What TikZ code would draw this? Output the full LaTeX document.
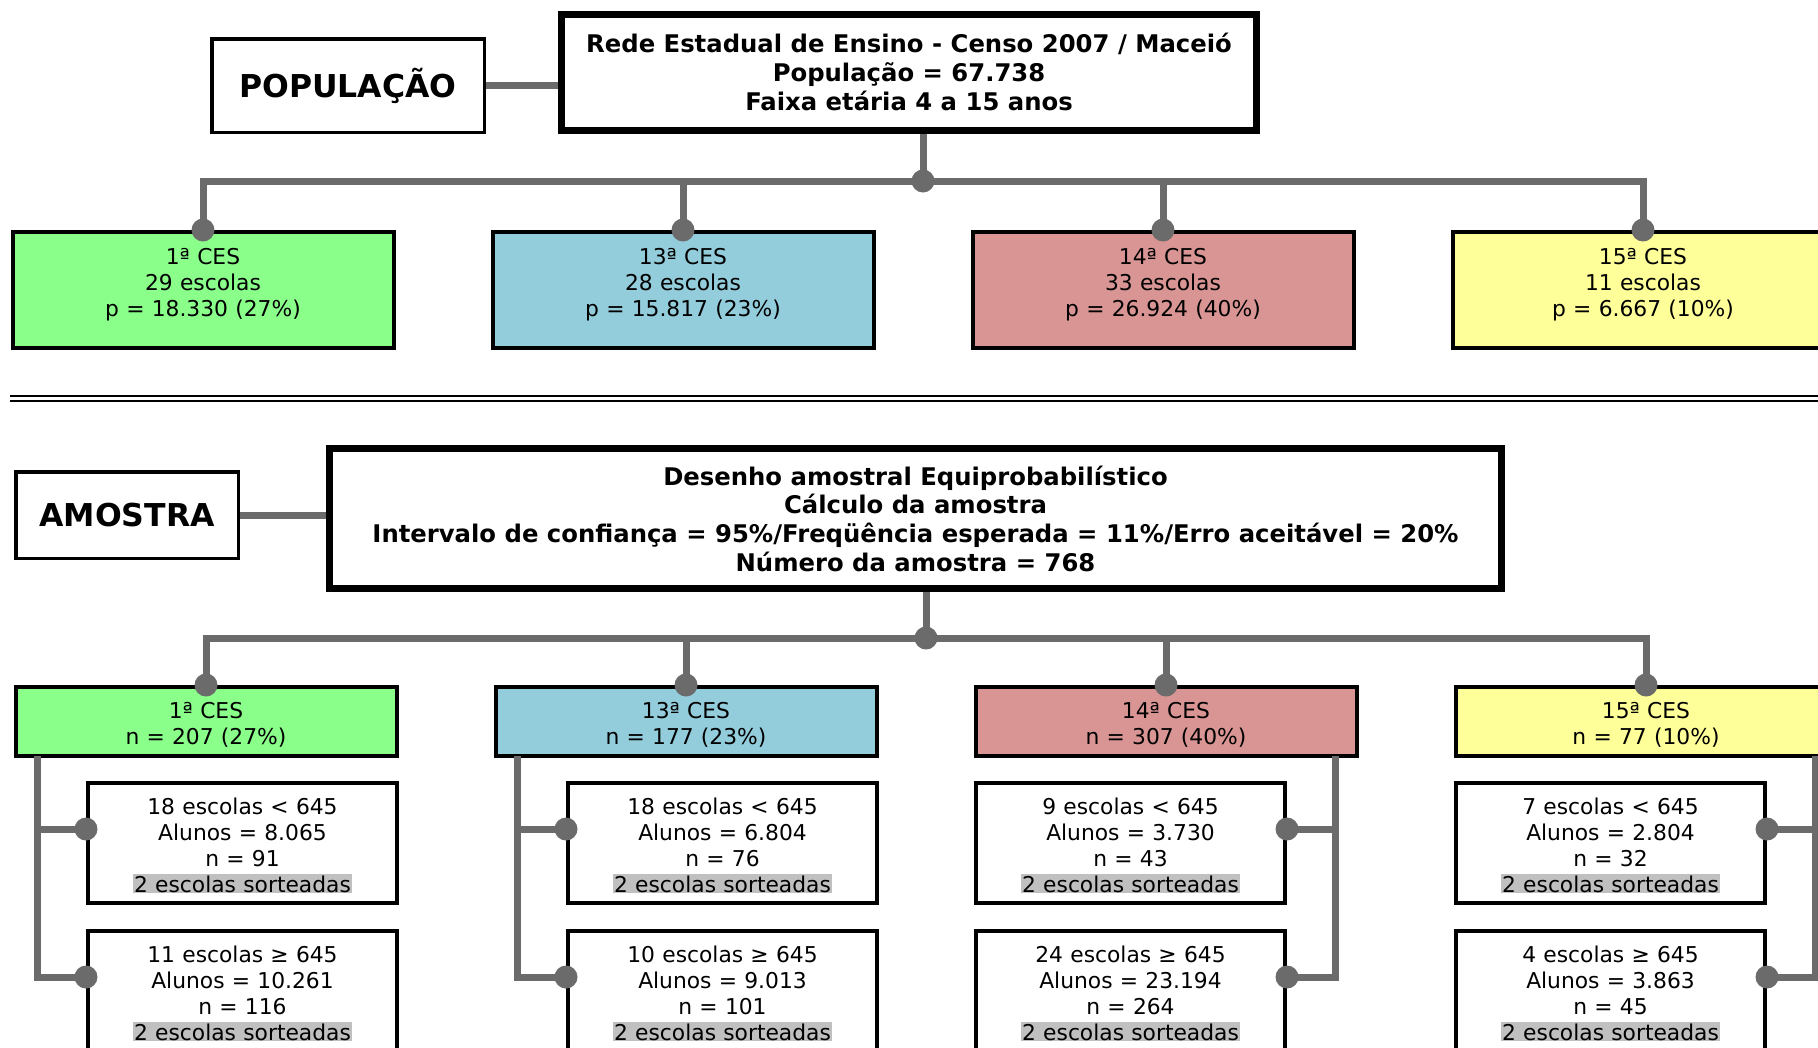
\documentclass[tikz,border=0pt]{standalone}
\usepackage{fontspec}
\setmainfont{DejaVu Sans}
\usepackage{xcolor}
\usetikzlibrary{positioning}
\definecolor{verdeCES}{HTML}{8AFF8A}
\definecolor{azulCES}{HTML}{93CDDC}
\definecolor{vermelhoCES}{HTML}{D99594}
\definecolor{amareloCES}{HTML}{FFFF99}
\definecolor{cinzaLig}{HTML}{6B6B6B}
\definecolor{cinzaSorteio}{HTML}{C0C0C0}
\newcommand{\sorteio}{{\setlength{\fboxsep}{1pt}\colorbox{cinzaSorteio}{2 escolas sorteadas}}}
\tikzset{
    caixa/.style={
        rectangle,
        draw,
        align=center,
        inner sep=0pt,
        font=\fontsize{21.8}{26}\selectfont
    },
    titulo/.style={caixa, line width=7pt, font=\fontsize{24.3}{28.7}\selectfont\bfseries},
    rotulo/.style={caixa, line width=3.5pt, font=\fontsize{31.5}{36}\selectfont\bfseries},
    cesPop/.style={caixa, line width=4pt, minimum width=381pt, minimum height=116pt,
        text width=370pt, text height=16pt, text depth=68pt},
    cesAm/.style={caixa, line width=4pt, minimum width=381pt, minimum height=69pt,
        text width=370pt, text height=16pt, text depth=23pt},
    estrato/.style={caixa, line width=4pt, fill=white, minimum width=309pt, minimum height=120pt,
        text width=300pt, text height=16pt, text depth=74pt},
    ligacao/.style={draw=cinzaLig, line width=7pt},
    ponto/.style={fill=cinzaLig}
}

\begin{document}
\begin{tikzpicture}[x=1pt, y=-1pt]
    \useasboundingbox (0,0) rectangle (1818,1047);

    % populacao
    \node[rotulo, minimum width=272.5pt, minimum height=93.5pt] (pop) at (348,85.5) {POPULAÇÃO};
    \node[titulo, minimum width=695pt, minimum height=116pt] (censo) at (909,72)
        {Rede Estadual de Ensino - Censo 2007 / Maceió\\População = 67.738\\Faixa etária 4 a 15 anos};
    \node[cesPop, fill=verdeCES] (cesP1) at (203,290) {1ª CES\\29 escolas\\p = 18.330 (27\%)};
    \node[cesPop, fill=azulCES] (cesP13) at (683,290) {13ª CES\\28 escolas\\p = 15.817 (23\%)};
    \node[cesPop, fill=vermelhoCES] (cesP14) at (1163,290) {14ª CES\\33 escolas\\p = 26.924 (40\%)};
    \node[cesPop, fill=amareloCES] (cesP15) at (1643,290) {15ª CES\\11 escolas\\p = 6.667 (10\%)};
    \coordinate (hubPop) at (923,181);

    \draw[ligacao] (pop.east) -- (pop.east -| censo.west);
    \draw[ligacao] (censo.south -| hubPop) -- (hubPop);
    \draw[ligacao] (cesP1.north) -- (cesP1.north |- hubPop) -- (cesP15.north |- hubPop) -- (cesP15.north);
    \draw[ligacao] (cesP13.north |- hubPop) -- (cesP13.north);
    \draw[ligacao] (cesP14.north |- hubPop) -- (cesP14.north);
    \foreach \n in {hubPop, cesP1.north, cesP13.north, cesP14.north, cesP15.north}
        \fill[ponto] (\n) circle (11.5pt);

    % separador
    \draw[line width=2.5pt] (10,396) -- (1818,396);
    \draw[line width=2.5pt] (10,401) -- (1818,401);

    % amostra
    \node[rotulo, minimum width=222.5pt, minimum height=86.5pt] (amostra) at (127,515) {AMOSTRA};
    \node[titulo, minimum width=1172pt, minimum height=140pt] (desenho) at (915.5,518.5)
        {Desenho amostral Equiprobabilístico\\Cálculo da amostra\\Intervalo de confiança = 95\%/Freqüência esperada = 11\%/Erro aceitável = 20\%\\Número da amostra = 768};
    \node[cesAm, fill=verdeCES] (cesA1) at (206,721.5) {1ª CES\\n = 207 (27\%)};
    \node[cesAm, fill=azulCES] (cesA13) at (686,721.5) {13ª CES\\n = 177 (23\%)};
    \node[cesAm, fill=vermelhoCES] (cesA14) at (1166,721.5) {14ª CES\\n = 307 (40\%)};
    \node[cesAm, fill=amareloCES] (cesA15) at (1646,721.5) {15ª CES\\n = 77 (10\%)};
    \coordinate (hubAm) at (926,638);

    \draw[ligacao] (amostra.east) -- (amostra.east -| desenho.west);
    \draw[ligacao] (desenho.south -| hubAm) -- (hubAm);
    \draw[ligacao] (cesA1.north) -- (cesA1.north |- hubAm) -- (cesA15.north |- hubAm) -- (cesA15.north);
    \draw[ligacao] (cesA13.north |- hubAm) -- (cesA13.north);
    \draw[ligacao] (cesA14.north |- hubAm) -- (cesA14.north);
    \foreach \n in {hubAm, cesA1.north, cesA13.north, cesA14.north, cesA15.north}
        \fill[ponto] (\n) circle (11.5pt);

    % estratos
    \node[estrato] (e1a) at (242.5,843) {18 escolas < 645\\Alunos = 8.065\\n = 91\\\sorteio};
    \node[estrato, below=24pt of e1a] (e1b) {11 escolas ≥ 645\\Alunos = 10.261\\n = 116\\\sorteio};
    \node[estrato] (e13a) at (722.5,843) {18 escolas < 645\\Alunos = 6.804\\n = 76\\\sorteio};
    \node[estrato, below=24pt of e13a] (e13b) {10 escolas ≥ 645\\Alunos = 9.013\\n = 101\\\sorteio};
    \node[estrato] (e14a) at (1130.5,843) {9 escolas < 645\\Alunos = 3.730\\n = 43\\\sorteio};
    \node[estrato, below=24pt of e14a] (e14b) {24 escolas ≥ 645\\Alunos = 23.194\\n = 264\\\sorteio};
    \node[estrato] (e15a) at (1610.5,843) {7 escolas < 645\\Alunos = 2.804\\n = 32\\\sorteio};
    \node[estrato, below=24pt of e15a] (e15b) {4 escolas ≥ 645\\Alunos = 3.863\\n = 45\\\sorteio};

    % troncos a esquerda
    \foreach \c in {1,13} {
        \coordinate (t\c) at ([xshift=23.5pt, yshift=2pt]cesA\c.south west);
        \coordinate (pa\c) at ([yshift=14pt]e\c a.west);
        \coordinate (pb\c) at ([yshift=14pt]e\c b.west);
        \draw[ligacao] (t\c) |- (pb\c);
        \draw[ligacao] (t\c |- pa\c) -- (pa\c);
        \fill[ponto] (pa\c) circle (11.5pt);
        \fill[ponto] (pb\c) circle (11.5pt);
    }
    % troncos a direita
    \foreach \c in {14,15} {
        \coordinate (t\c) at ([xshift=-23.5pt, yshift=2pt]cesA\c.south east);
        \coordinate (pa\c) at ([yshift=14pt]e\c a.east);
        \coordinate (pb\c) at ([yshift=14pt]e\c b.east);
        \draw[ligacao] (t\c) |- (pb\c);
        \draw[ligacao] (t\c |- pa\c) -- (pa\c);
        \fill[ponto] (pa\c) circle (11.5pt);
        \fill[ponto] (pb\c) circle (11.5pt);
    }
\end{tikzpicture}
\end{document}
